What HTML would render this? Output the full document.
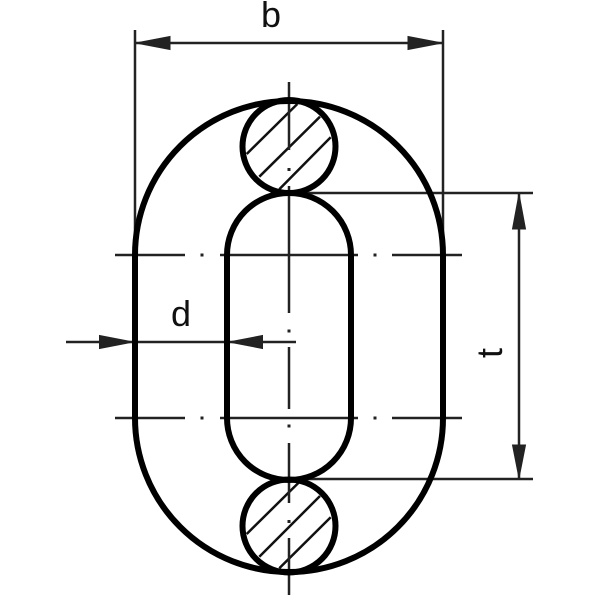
<!DOCTYPE html>
<html>
<head>
<meta charset="utf-8">
<style>
html,body{margin:0;padding:0;background:#fff;width:600px;height:600px;overflow:hidden}
svg{display:block}
text{font-family:"Liberation Sans",sans-serif;fill:#111}
</style>
</head>
<body>
<svg width="600" height="600" viewBox="0 0 600 600" xmlns="http://www.w3.org/2000/svg">
<rect width="600" height="600" fill="#fff"/>
<!-- hatching -->
<g stroke="#111" stroke-width="2.5" fill="none">
<path d="M246.7 154L297.3 104M259.3 176.7L320 116.7M279.3 189.3L330.7 137.3"/>
<path d="M246.7 534L298.3 483M259.3 556.7L320 496M279.3 568.3L330.7 517.3"/>
</g>
<!-- centre lines -->
<g stroke="#222" stroke-width="2.5" fill="none">
<path d="M289 82V150M289 186V313M289 347V409M289 443V503M289 538V595"/>
<path d="M115 255H185M220 255H358M392 255H462"/>
<path d="M115 418H185M220 418H358M392 418H462"/>
</g>
<g fill="#222">
<rect x="287.500" y="168" width="3" height="3"/>
<rect x="287.500" y="329.500" width="3" height="3"/>
<rect x="287.500" y="424.500" width="3" height="3"/>
<rect x="287.500" y="520" width="3" height="3"/>
<rect x="200.500" y="253.500" width="3" height="3"/>
<rect x="373.500" y="253.500" width="3" height="3"/>
<rect x="200.500" y="416.500" width="3" height="3"/>
<rect x="373.500" y="416.500" width="3" height="3"/>
</g>
<!-- dimension and extension lines -->
<g stroke="#222" stroke-width="2.5" fill="none">
<path d="M135 30V255M443 30V255"/>
<path d="M135 43H443"/>
<path d="M66 342H296"/>
<path d="M519 193V479"/>
<path d="M300 193H533M300 479H533"/>
</g>
<!-- arrowheads -->
<g fill="#222" stroke="#222" stroke-width="1" stroke-linejoin="miter">
<path d="M136 43L170 36.500V49.500Z"/>
<path d="M442 43L408 36.500V49.500Z"/>
<path d="M133 342L99.500 335.500V348.500Z"/>
<path d="M229 342L262.500 335.500V348.500Z"/>
<path d="M519 194L512.500 229H525.500Z"/>
<path d="M519 478L512.500 445H525.500Z"/>
</g>
<!-- thick outlines -->
<g stroke="#000" stroke-width="6" fill="none">
<path d="M135 255A154 154 0 0 1 443 255V418A154 154 0 0 1 135 418Z"/>
<path d="M227 255A62 62 0 0 1 351 255V418A62 62 0 0 1 227 418Z"/>
<circle cx="289" cy="146.500" r="46.500"/>
<circle cx="289" cy="526" r="46.500"/>
</g>
<!-- labels -->
<text x="271" y="27" font-size="36" text-anchor="middle">b</text>
<text x="181" y="326" font-size="36" text-anchor="middle">d</text>
<text transform="translate(502,353) rotate(-90)" font-size="36" text-anchor="middle">t</text>
</svg>
</body>
</html>
